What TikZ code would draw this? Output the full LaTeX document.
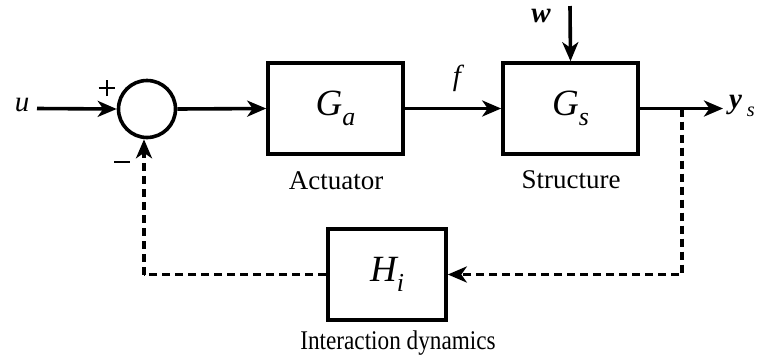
\documentclass[tikz,border=0pt]{standalone}
\usepackage{fontspec}
\setmainfont{Liberation Serif}
\usetikzlibrary{arrows.meta}
\newcommand{\varsub}[3][\itshape]{{#1#2}\raisebox{-0.28em}{\fontsize{0.7em}{1em}\selectfont\mdseries\itshape #3}}
\begin{document}
\begin{tikzpicture}[x=1pt,y=-1pt,
  line width=3.6pt,
  blk/.style={draw,minimum width=135pt,minimum height=91pt,inner sep=0pt,font=\fontsize{37}{40}\selectfont},
  lbl/.style={font=\fontsize{27}{30}\selectfont},
  var/.style={font=\fontsize{29}{30}\selectfont\itshape},
  arr/.style={-{Stealth[length=19pt,width=16pt,inset=5.5pt]}},
  dsh/.style={dash pattern=on 8pt off 5pt}]
\useasboundingbox (0,0) rectangle (762,360);
\node[draw,circle,minimum size=57pt,inner sep=0pt] (sum) at (147,109) {};
\node[var] (u) at (22,105) {u};
\node[blk] (Ga) at (335.5,108.5) {\varsub{G}{a}};
\node[blk] (Gs) at (570.5,108.5) {\varsub{G}{s}};
\node[blk,minimum width=118pt] (Hi) at (387,274.5) {\varsub{H}{i}};
\node[lbl] (act) at (336,181) {Actuator};
\node[lbl] (str) at (571,180) {Structure};
\node[lbl] (idn) at (398,343) {\scalebox{0.86}[1]{Interaction dynamics}};
\node[var] (f) at (457,78) {f};
\node[var,font=\fontsize{29}{30}\selectfont\bfseries\itshape] (w) at (541,16) {w};
\node[var,anchor=west] (ys) at (724,106) {\varsub[\bfseries\itshape]{y\,}{s}};
\node[inner sep=0pt] (plus) at (103,88) {\rule{16pt}{2pt}\hspace{-9pt}\rule[-7pt]{2pt}{16pt}\hspace{7pt}};
\node[inner sep=0pt] (minus) at (122,162) {\rule{16pt}{2pt}};
\coordinate (ustart) at (37,108.5);
\coordinate (wtop) at (570,6);
\coordinate (yend) at (723,108.5);
\coordinate (br) at (682,108.5);
\coordinate (brd) at (682,274.5);
\coordinate (ld) at (144,274.5);
\draw[arr] (ustart) -- (sum.west);
\draw[arr] (sum.east) -- (Ga.west);
\draw[arr] (Ga.east) -- (Gs.west);
\draw[arr] (wtop) -- (Gs.north);
\draw[arr] (Gs.east) -- (yend);
\draw[arr,dsh] (br) -- (brd) -- (Hi.east);
\draw[dsh] (Hi.west) -- (ld);
\draw[arr,dsh] (ld) -- (ld |- sum.south);
\end{tikzpicture}
\end{document}
